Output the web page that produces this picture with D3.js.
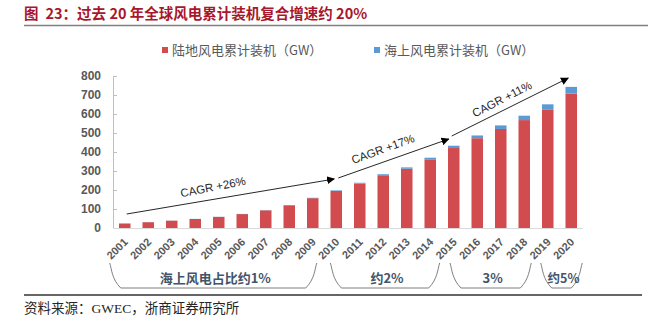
<!DOCTYPE html>
<html>
<head>
<meta charset="utf-8">
<script src="https://cdn.jsdelivr.net/npm/d3@7/dist/d3.min.js"></script>
<style>
  html, body { margin: 0; padding: 0; background: #fff; }
  svg { display: block; }
  .cjk { font-family: "Noto Sans CJK SC", "Liberation Sans", sans-serif; }
</style>
</head>
<body>
<svg id="chart" width="657" height="322"></svg>
<script>
"use strict";

// cumulative installed wind capacity, GW
var years = ["2001", "2002", "2003", "2004", "2005", "2006", "2007", "2008", "2009", "2010",
  "2011", "2012", "2013", "2014", "2015", "2016", "2017", "2018", "2019", "2020"];
var onshore = [23.7, 30.5, 38.4, 47.3, 58.3, 73.2, 92.9, 119.5, 156.9, 194.9,
  233.9, 277.6, 312.0, 361.3, 420.9, 472.6, 521.2, 567.9, 621.9, 707.4];
var offshore = [0.3, 0.5, 0.6, 0.7, 0.7, 0.8, 1.1, 1.5, 2.1, 3.1,
  4.1, 5.4, 7.0, 8.7, 12.1, 14.4, 18.8, 23.1, 29.1, 35.3];
var yTicks = [0, 100, 200, 300, 400, 500, 600, 700, 800];
var seriesNames = ["陆地风电累计装机（GW）", "海上风电累计装机（GW）"];

// growth-rate arrows: start year, end year, label
var cagrFrom = ["2001", "2010", "2015"];
var cagrTo = ["2010", "2015", "2020"];
var cagrLabels = ["CAGR +26%", "CAGR +17%", "CAGR +11%"];

// offshore share brackets under the axis
var shareFrom = ["2001", "2010", "2015", "2019"];
var shareTo = ["2009", "2014", "2018", "2020"];
var shareLabels = ["海上风电占比约1%", "约2%", "3%", "约5%"];

var RED = "#D24B4F";
var BLUE = "#5B9BD5";

var svg = d3.select("#chart");

var x = d3.scaleBand()
  .domain(years)
  .range([113, 583])
  .paddingInner(0.51)
  .paddingOuter(0.255);

var y = d3.scaleLinear()
  .domain([0, 800])
  .range([228, 76]);

function cx(yr) {
  return x(yr) + x.bandwidth() / 2;
}

// title + rule
var title = svg.append("text")
  .attr("class", "cjk")
  .attr("x", 24).attr("y", 19)
  .attr("font-size", 14.5)
  .attr("font-weight", "bold")
  .attr("fill", "#A8172B");
title.append("tspan").text("图");
title.append("tspan").attr("dx", 7).text("23：过去 20 年全球风电累计装机复合增速约 20%");

svg.append("line")
  .attr("x1", 24).attr("x2", 648)
  .attr("y1", 25.5).attr("y2", 25.5)
  .attr("stroke", "#7F7F7F")
  .attr("stroke-width", 1.5);

// legend
var legend = svg.append("g").attr("class", "cjk");
var legendX = [162, 374];
var legendColors = [RED, BLUE];
seriesNames.forEach(function(name, i) {
  legend.append("rect")
    .attr("x", legendX[i]).attr("y", 47)
    .attr("width", 6).attr("height", 6)
    .attr("fill", legendColors[i]);
  legend.append("text")
    .attr("x", legendX[i] + 10).attr("y", 55)
    .attr("font-size", 13)
    .attr("fill", "#595959")
    .text(name);
});

// y axis
var yAxis = svg.append("g")
  .attr("transform", "translate(113,0)")
  .call(d3.axisRight(y).tickValues(yTicks).tickSize(4).tickFormat(""));
yAxis.select(".domain").attr("stroke", "#BFBFBF");
yAxis.selectAll(".tick line").attr("stroke", "#BFBFBF");

svg.append("g")
  .selectAll("text")
  .data(yTicks)
  .join("text")
  .attr("x", 101)
  .attr("y", function(d) { return y(d) + 4; })
  .attr("text-anchor", "end")
  .attr("font-family", "Liberation Sans, Arial, sans-serif")
  .attr("font-size", 12)
  .attr("font-weight", "bold")
  .attr("fill", "#595959")
  .text(function(d) { return d; });

// bars
var rows = years.map(function(yr, i) {
  return { year: yr, on: onshore[i], off: offshore[i] };
});

var bars = svg.append("g");
bars.selectAll("rect.on")
  .data(rows)
  .join("rect")
  .attr("class", "on")
  .attr("x", function(d) { return x(d.year); })
  .attr("width", x.bandwidth())
  .attr("y", function(d) { return y(d.on); })
  .attr("height", function(d) { return y(0) - y(d.on); })
  .attr("fill", RED);

bars.selectAll("rect.off")
  .data(rows)
  .join("rect")
  .attr("class", "off")
  .attr("x", function(d) { return x(d.year); })
  .attr("width", x.bandwidth())
  .attr("y", function(d) { return y(d.on + d.off); })
  .attr("height", function(d) { return y(d.on) - y(d.on + d.off); })
  .attr("fill", BLUE);

// x baseline
svg.append("line")
  .attr("x1", 113).attr("x2", 583)
  .attr("y1", y(0) + 0.5).attr("y2", y(0) + 0.5)
  .attr("stroke", "#D9D9D9");

// year labels, slanted
svg.append("g")
  .selectAll("text")
  .data(years)
  .join("text")
  .attr("transform", function(d) {
    return "translate(" + (cx(d) + 1) + ",240) rotate(-45)";
  })
  .attr("text-anchor", "end")
  .attr("dy", "0.35em")
  .attr("font-family", "Liberation Sans, Arial, sans-serif")
  .attr("font-size", 11)
  .attr("font-weight", "bold")
  .attr("fill", "#595959")
  .text(function(d) { return d; });

// CAGR arrows
svg.append("defs").append("marker")
  .attr("id", "head")
  .attr("viewBox", "0 0 10 10")
  .attr("refX", 9).attr("refY", 5)
  .attr("markerWidth", 8).attr("markerHeight", 8)
  .attr("markerUnits", "userSpaceOnUse")
  .attr("orient", "auto")
  .append("path")
  .attr("d", "M0,0L10,5L0,10Z")
  .attr("fill", "#000");

// arrow ends sit a little off the bar centres
var arrowStart = [[2, 214], [2, 178], [-2, 136]];
var arrowEnd = [[-2, 179], [-5, 139], [-3, 78]];
var labelAt = [[213, 187], [383, 149], [502, 99]];
var labelRot = [-11, -20, -27];

var arrows = svg.append("g");
cagrLabels.forEach(function(lbl, i) {
  arrows.append("line")
    .attr("x1", cx(cagrFrom[i]) + arrowStart[i][0]).attr("y1", arrowStart[i][1])
    .attr("x2", cx(cagrTo[i]) + arrowEnd[i][0]).attr("y2", arrowEnd[i][1])
    .attr("stroke", "#262626")
    .attr("stroke-width", 1)
    .attr("marker-end", "url(#head)");
  arrows.append("text")
    .attr("transform", "translate(" + labelAt[i][0] + "," + labelAt[i][1] + ") rotate(" + labelRot[i] + ")")
    .attr("text-anchor", "middle")
    .attr("dy", "0.35em")
    .attr("font-family", "Liberation Sans, Arial, sans-serif")
    .attr("font-size", 11.5)
    .attr("fill", "#262626")
    .text(lbl);
});

// brackets
var idx = d3.scaleLinear().domain([0, 19]).range([cx(years[0]), cx(years[19])]);
var braceL = [-0.64, -0.25, -0.16, -0.3];
var braceR = [0.17, 0.4, 0.3, 0.47];
var braceTop = 263, braceBottom = 288, rad = 9;

var braces = svg.append("g");
shareLabels.forEach(function(lbl, i) {
  var x0 = idx(years.indexOf(shareFrom[i]) + braceL[i]);
  var x1 = idx(years.indexOf(shareTo[i]) + braceR[i]);
  var p = d3.path();
  p.moveTo(x0, braceTop);
  p.bezierCurveTo(x0 + 2, braceTop + 6, x0 + 2, braceBottom - rad, x0 + 2 + rad, braceBottom);
  p.lineTo(x1 - 2 - rad, braceBottom);
  p.bezierCurveTo(x1 - 2, braceBottom - rad, x1 - 2, braceTop + 6, x1, braceTop);
  braces.append("path")
    .attr("d", p.toString())
    .attr("fill", "none")
    .attr("stroke", "#7F7F7F")
    .attr("stroke-width", 1);
  braces.append("text")
    .attr("class", "cjk")
    .attr("x", (x0 + x1) / 2 + 2).attr("y", 283)
    .attr("text-anchor", "middle")
    .attr("font-size", i === 3 ? 12.5 : 13)
    .attr("font-weight", "bold")
    .attr("fill", "#44546A")
    .text(lbl);
});

// footer
svg.append("line")
  .attr("x1", 24).attr("x2", 642)
  .attr("y1", 295).attr("y2", 295)
  .attr("stroke", "#333")
  .attr("stroke-width", 1.5);

svg.append("text")
  .attr("x", 24).attr("y", 313)
  .attr("font-family", "Liberation Serif, Noto Sans CJK SC, serif")
  .attr("font-size", 13.5)
  .attr("fill", "#262626")
  .text("资料来源：GWEC，浙商证券研究所");
</script>
</body>
</html>
